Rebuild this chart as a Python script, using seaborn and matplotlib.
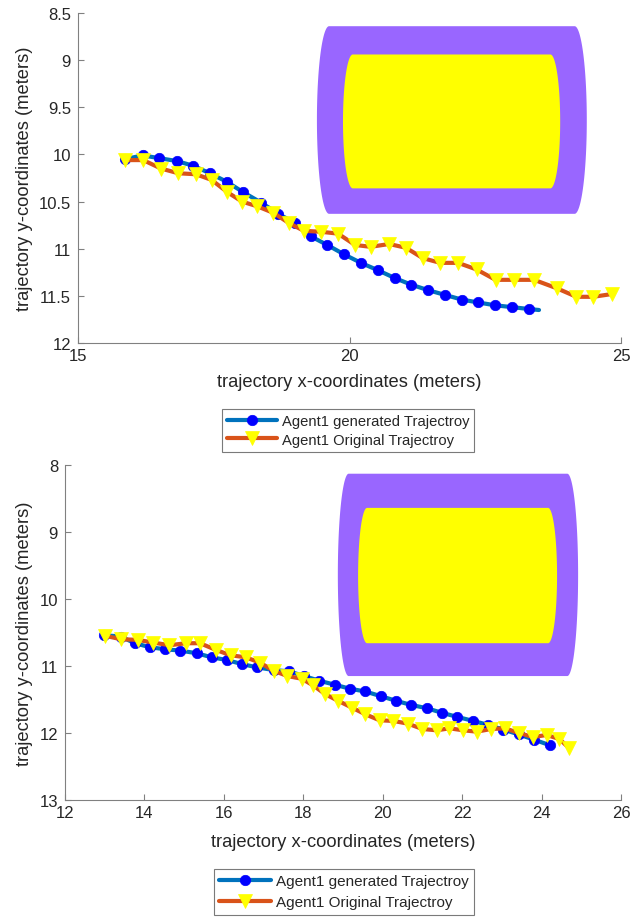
import numpy as np
import matplotlib
matplotlib.use("Agg")
import matplotlib.pyplot as plt
from matplotlib.patches import Polygon
import seaborn as sns

# ---------------- upper panel ----------------
gen1_x = [15.87, 16.19, 16.50, 16.82, 17.12, 17.43, 17.74, 18.04, 18.37, 18.69,
          19.00, 19.29, 19.59, 19.90, 20.21, 20.53, 20.83, 21.13, 21.45, 21.76,
          22.07, 22.37, 22.68, 23.00, 23.31, 23.49]
gen1_y = [10.05, 10.01, 10.04, 10.07, 10.12, 10.20, 10.29, 10.40, 10.51, 10.63,
          10.73, 10.87, 10.96, 11.06, 11.15, 11.23, 11.31, 11.38, 11.44, 11.49,
          11.54, 11.57, 11.60, 11.62, 11.64, 11.65]
orig1_x = [15.87, 16.20, 16.53, 16.85, 17.17, 17.46, 17.75, 18.02, 18.30, 18.60,
           18.89, 19.16, 19.47, 19.79, 20.10, 20.39, 20.73, 21.04, 21.35, 21.67,
           22.00, 22.34, 22.69, 23.03, 23.40, 23.82, 24.18, 24.49, 24.84]
orig1_y = [10.06, 10.06, 10.15, 10.20, 10.21, 10.27, 10.40, 10.50, 10.55, 10.62,
           10.73, 10.81, 10.82, 10.84, 10.96, 10.98, 10.95, 10.99, 11.10, 11.15,
           11.15, 11.22, 11.33, 11.33, 11.33, 11.42, 11.51, 11.51, 11.48]

# ---------------- lower panel ----------------
gen2_x = [12.98, 13.40, 13.76, 14.14, 14.52, 14.90, 15.32, 15.69, 16.07, 16.45,
          16.83, 17.25, 17.64, 18.02, 18.40, 18.80, 19.18, 19.56, 19.95, 20.34,
          20.71, 21.11, 21.50, 21.88, 22.28, 22.66, 23.04, 23.42, 23.81, 24.20]
gen2_y = [10.54, 10.56, 10.66, 10.72, 10.75, 10.77, 10.81, 10.87, 10.91, 10.97,
          11.02, 11.06, 11.08, 11.15, 11.22, 11.28, 11.34, 11.38, 11.45, 11.52,
          11.58, 11.63, 11.70, 11.76, 11.82, 11.88, 11.95, 12.02, 12.10, 12.18]
orig2_x = [13.01, 13.41, 13.83, 14.22, 14.63, 15.05, 15.40, 15.80, 16.17, 16.55,
           16.91, 17.25, 17.60, 17.96, 18.25, 18.55, 18.88, 19.22, 19.56, 19.92,
           20.27, 20.63, 21.00, 21.36, 21.68, 22.03, 22.37, 22.73, 23.08, 23.43,
           23.78, 24.13, 24.45, 24.70]
orig2_y = [10.55, 10.60, 10.61, 10.65, 10.69, 10.66, 10.66, 10.76, 10.84, 10.87,
           10.95, 11.07, 11.15, 11.19, 11.29, 11.42, 11.52, 11.62, 11.72, 11.81,
           11.82, 11.86, 11.94, 11.96, 11.93, 11.96, 11.98, 11.94, 11.93, 12.00,
           12.06, 12.03, 12.09, 12.23]

legend_labels = ["Agent1 generated Trajectroy", "Agent1 Original Trajectroy"]
x_label = "trajectory x-coordinates (meters)"
y_label = "trajectory y-coordinates (meters)"

# zone outlines as (xmin, ymin, xmax, ymax) in metres
outer_zone1 = (19.40, 8.64, 24.37, 10.63)
inner_zone1 = (19.88, 8.94, 23.88, 10.36)
outer_zone2 = (18.87, 8.13, 24.92, 11.15)
inner_zone2 = (19.38, 8.64, 24.39, 10.66)

x_ticks1 = [15, 20, 25]
y_ticks1 = [8.5, 9, 9.5, 10, 10.5, 11, 11.5, 12]
x_ticks2 = [12, 14, 16, 18, 20, 22, 24, 26]
y_ticks2 = [8, 9, 10, 11, 12, 13]

BLUE = "#0072bd"
ORANGE = "#d95319"
AXIS_GREY = "#808080"
TEXT = "#262626"

sns.set_style("ticks")
plt.rcParams["font.family"] = ["Liberation Sans", "DejaVu Sans"]


def barrel(x0, y0, x1, y1, frac=0.045, n=80):
    """Rectangle whose left/right sides are bulging elliptical arcs."""
    w = x1 - x0
    rx = frac * w
    ry = (y1 - y0) / 2
    yc = (y0 + y1) / 2
    t = np.linspace(-np.pi / 2, np.pi / 2, n)
    right = np.column_stack([x1 - rx + rx * np.cos(t), yc + ry * np.sin(t)])
    tl = t[::-1]
    left = np.column_stack([x0 + rx - rx * np.cos(tl), yc + ry * np.sin(tl)])
    return np.vstack([right, left])


def draw_panel(ax, gx, gy, ox, oy, outer, inner, xticks, yticks, gen_markevery=None):
    ax.add_patch(Polygon(barrel(*outer), closed=True, facecolor="#9966ff",
                         edgecolor="none", zorder=1))
    ax.add_patch(Polygon(barrel(*inner), closed=True, facecolor="#ffff00",
                         edgecolor="none", zorder=1.5))
    sns.lineplot(x=gx, y=gy, ax=ax, sort=False, estimator=None, color=BLUE,
                 linewidth=3, marker="o", markersize=7.5,
                 markerfacecolor="#0000ff", markeredgecolor="#0000ff",
                 markeredgewidth=0.5, markevery=gen_markevery,
                 label=legend_labels[0], zorder=3)
    sns.lineplot(x=ox, y=oy, ax=ax, sort=False, estimator=None, color=ORANGE,
                 linewidth=3, marker="v", markersize=10,
                 markerfacecolor="#ffff00", markeredgecolor="#ffff00",
                 markeredgewidth=0.5, label=legend_labels[1], zorder=4)
    ax.set_xlim(xticks[0], xticks[-1])
    ax.set_ylim(yticks[-1], yticks[0])
    ax.set_xticks(xticks)
    ax.set_yticks(yticks)
    ax.set_xticklabels([f"{v:g}" for v in xticks])
    ax.set_yticklabels([f"{v:g}" for v in yticks])
    for side in ("top", "right"):
        ax.spines[side].set_visible(False)
    for side in ("left", "bottom"):
        ax.spines[side].set_color(AXIS_GREY)
        ax.spines[side].set_linewidth(0.8)
    ax.tick_params(direction="in", length=4, width=0.8, color=AXIS_GREY,
                   labelsize=12, labelcolor=TEXT)
    ax.tick_params(axis="y", pad=5)
    ax.tick_params(axis="x", pad=3.5)
    ax.set_xlabel(x_label, fontsize=13.2, color=TEXT)
    ax.set_ylabel(y_label, fontsize=13.2, color=TEXT)


fig = plt.figure(figsize=(6.34, 9.20), dpi=100)
W, H = 634, 920

# upper axes: x 78..621 px, y 14..344 px
ax1 = fig.add_axes([78 / W, 1 - 344 / H, 543 / W, 330 / H])
# lower axes: x 65..621 px, y 466..801 px
ax2 = fig.add_axes([65 / W, 1 - 801 / H, 556 / W, 335 / H])

draw_panel(ax1, gen1_x, gen1_y, orig1_x, orig1_y, outer_zone1, inner_zone1,
           x_ticks1, y_ticks1, gen_markevery=list(range(len(gen1_x) - 1)))
draw_panel(ax2, gen2_x, gen2_y, orig2_x, orig2_y, outer_zone2, inner_zone2,
           x_ticks2, y_ticks2)

ax1.yaxis.set_label_coords((33 - 78) / 543, 0.5)
ax2.yaxis.set_label_coords((33 - 65) / 556, 0.5)
ax1.xaxis.set_label_coords(0.5, (344 - 374) / 330)
ax2.xaxis.set_label_coords(0.5, (801 - 834) / 335)

for ax, corner, fs, spacing in ((ax1, (222, 410), 10.6, 0.3),
                                (ax2, (214, 870), 11.0, 0.45)):
    handles = ax.get_lines()[:2]
    leg = ax.legend(handles, legend_labels, loc="upper left",
                    bbox_to_anchor=(corner[0] / W, 1 - corner[1] / H),
                    bbox_transform=fig.transFigure, fontsize=fs,
                    numpoints=1, handlelength=3.4, handletextpad=0.3,
                    borderpad=0.35, labelspacing=spacing, borderaxespad=0,
                    fancybox=False, framealpha=1, edgecolor="#7a7a7a")
    leg.get_frame().set_linewidth(0.8)
    for txt in leg.get_texts():
        txt.set_color(TEXT)

fig.savefig("out.png", dpi=100)
